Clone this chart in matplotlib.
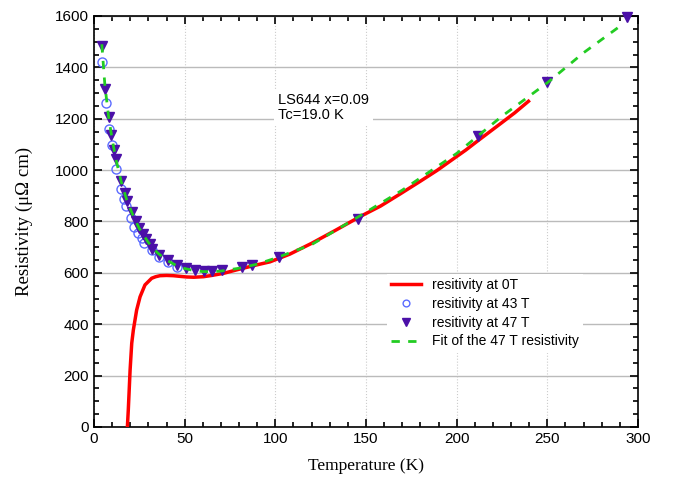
import matplotlib
matplotlib.use("Agg")
import matplotlib.pyplot as plt
from matplotlib.ticker import MultipleLocator

# resistivity in zero field (K, uOhm cm)
t_0T = [18.4, 18.9, 19.9, 20.8, 21.7, 23.5, 25.4, 28.1, 31.8, 34.0, 36.4, 40.0,
        43.7, 48.0, 51.1, 55.0, 60.3, 65.0, 71.3, 80.5, 89.7, 97.1, 108.0, 120.0,
        133.0, 146.7, 158.0, 169.0, 180.0, 189.0, 196.4, 205.0, 212.0, 224.0,
        232.0, 239.6]
r_0T = [0, 66, 222, 326, 378, 455, 507, 553, 579, 585, 589, 590,
        589, 586, 584, 583, 585, 590, 598, 615, 631, 643, 673, 715,
        765, 819, 860, 908, 957, 998, 1035, 1078, 1116, 1180,
        1223, 1268]

# 43 T pulsed field data
t_43T = [4.4, 6.4, 8.5, 9.7, 12.0, 14.7, 16.7, 17.6, 20.2, 22.1, 24.1, 26.3,
         27.4, 31.8, 36.0, 40.6, 45.6]
r_43T = [1420, 1260, 1159, 1098, 1003, 926, 886, 860, 812, 780, 754, 734,
         715, 689, 663, 641, 624]

# 47 T pulsed field data
t_47T = [4.6, 6.2, 8.1, 9.6, 11.2, 12.3, 14.9, 16.9, 18.2, 21.0, 23.0, 25.0,
         26.9, 28.7, 30.9, 32.0, 36.0, 40.6, 45.8, 50.6, 55.7, 60.5, 64.9, 70.4,
         81.6, 87.3, 102.0, 145.4, 212.0, 249.7, 294.0]
r_47T = [1485, 1317, 1205, 1135, 1078, 1043, 959, 912, 881, 838, 803, 775,
         751, 731, 711, 692, 670, 650, 630, 619, 610, 607, 607, 611,
         622, 632, 663, 810, 1133, 1342, 1597]

# fit curve through the 47 T points
t_fit = [4.3, 6, 8, 10, 12, 15, 18, 21, 25, 30, 35, 40, 45, 50, 55, 60, 65, 70,
         80, 90, 100, 120, 145, 170, 200, 225, 250, 270, 290]
r_fit = [1490, 1330, 1210, 1120, 1045, 955, 885, 832, 772, 718, 678, 650, 630,
         617, 609, 605, 605, 607, 618, 634, 657, 710, 815, 922, 1065, 1210,
         1340, 1457, 1560]

sans = ["Liberation Sans", "DejaVu Sans"]
serif = ["Liberation Serif", "DejaVu Serif"]

fig = plt.figure(figsize=(6.73, 4.79), dpi=100)
ax = fig.add_axes([0.1397, 0.1086, 0.8083, 0.858])

ax.plot(t_0T, r_0T, color="#ff0000", lw=2.5, label="resitivity at 0T", zorder=3)
ax.plot(t_43T, r_43T, "o", ms=6.5, mfc="none", mec="#5b6bff", mew=1.0,
        label="resitivity at 43 T", zorder=4)
ax.plot(t_47T, r_47T, "v", ms=7, color="#4b10a8", label="resitivity at 47 T",
        zorder=5, clip_on=False)
ax.plot(t_fit, r_fit, "--", color="#22cc22", lw=2, dashes=(3, 3),
        label="Fit of the 47 T resistivity", zorder=6)

ax.set_xlim(0, 300)
ax.set_ylim(0, 1600)
ax.xaxis.set_major_locator(MultipleLocator(50))
ax.xaxis.set_minor_locator(MultipleLocator(10))
ax.yaxis.set_major_locator(MultipleLocator(200))
ax.yaxis.set_minor_locator(MultipleLocator(50))
ax.tick_params(which="both", direction="in", top=True, right=True, width=1.2)
ax.tick_params(which="major", length=6, labelsize=11)
ax.tick_params(which="minor", length=3.5)
for lab in ax.get_xticklabels() + ax.get_yticklabels():
    lab.set_family(sans)

ax.yaxis.grid(True, color="#bbbbbb", lw=1, zorder=0)
ax.xaxis.grid(True, color="#cccccc", lw=0.8, ls=":", zorder=0)
ax.set_axisbelow(True)
for sp in ax.spines.values():
    sp.set_linewidth(1.2)

ax.set_xlabel("Temperature (K)", family=serif, fontsize=12.5, labelpad=9)
ax.set_ylabel("Resistivity (μΩ cm)", family=serif, fontsize=13.5, labelpad=16)

ax.text(101.5, 1300, "LS644 x=0.09\nTc=19.0 K", family=sans, fontsize=10.5,
        va="top", ha="left", linespacing=1.1,
        bbox=dict(facecolor="white", edgecolor="none", pad=3), zorder=7)

leg = ax.legend(loc="upper left", bbox_to_anchor=(0.525, 0.39), frameon=True,
                fancybox=False, framealpha=1, edgecolor="none",
                prop={"family": sans, "size": 10}, labelspacing=0.35,
                handlelength=2.2, borderpad=0.3, handletextpad=0.8,
                markerscale=0.75)
leg.set_zorder(8)

fig.savefig("out.png", dpi=100)
